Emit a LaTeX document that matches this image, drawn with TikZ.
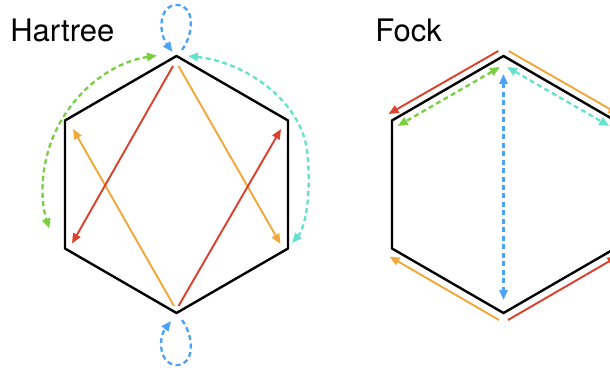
\documentclass[tikz,border=0pt]{standalone}
\usepackage{fontspec}
\setmainfont{TeX Gyre Heros}
\usetikzlibrary{arrows.meta}
\definecolor{cred}{RGB}{218,66,45}
\definecolor{corange}{RGB}{241,168,58}
\definecolor{cgreen}{RGB}{122,206,66}
\definecolor{ccyan}{RGB}{100,226,204}
\definecolor{cblue}{RGB}{76,162,246}
\begin{document}
\begin{tikzpicture}[x=0.75pt,y=-0.75pt,
  >={Triangle[length=7.5pt,width=6.2pt]},
  hexagon/.style={draw=black,line width=1.8pt,line join=miter},
  solidarrow/.style={line width=1.45pt,->},
  dasharrow/.style={line width=1.75pt,dash pattern=on 3.75pt off 2.6pt},
  title/.style={anchor=base west,inner sep=0pt,font=\fontsize{23.25}{28}\selectfont}]
\useasboundingbox (0,0) rectangle (610,370);
\clip (0,0) rectangle (610,370);

% titles
\node[title] (hartree) at (10,42) {Hartree};
\node[title] (fock) at (375,42) {Fock};

% ---------------- Hartree ----------------
\coordinate (H0) at (176.5,56);
\coordinate (H1) at (288,120.5);
\coordinate (H2) at (288,248.5);
\coordinate (H3) at (176.5,313);
\coordinate (H4) at (65,248.5);
\coordinate (H5) at (65,120.5);
\draw[hexagon] (H0)--(H1)--(H2)--(H3)--(H4)--(H5)--cycle;

\coordinate (ra1) at (178.5,306); \coordinate (ra2) at (281,129);
\coordinate (rb1) at (173,66);    \coordinate (rb2) at (72,243.5);
\coordinate (oa1) at (178.5,66);  \coordinate (oa2) at (280.5,244);
\coordinate (ob1) at (174,306);   \coordinate (ob2) at (73,129);
\draw[solidarrow,corange] (oa1) -- (oa2);
\draw[solidarrow,corange] (ob1) -- (ob2);
\draw[solidarrow,cred] (ra1) -- (ra2);
\draw[solidarrow,cred] (rb1) -- (rb2);

% green arc
\coordinate (gc) at (177,188);
\draw[dasharrow,cgreen,<->] (gc) ++(261.4:134) arc[start angle=261.4,end angle=162.4,radius=134];
% cyan arc
\coordinate (c1) at (188,56);
\coordinate (cm) at (307,150);
\coordinate (c2) at (292,243);
\draw[dasharrow,ccyan,<->] (c1) .. controls (245,62) and (300,100) .. (cm)
  .. controls (312,195) and (305,228) .. (c2);

% blue loops
\coordinate (bt1) at (182,50); \coordinate (bt2) at (172.5,52);
\draw[dasharrow,cblue,->] (bt1) .. controls (195,32) and (194,5) .. (177,5)
  .. controls (159,5) and (158,32) .. (bt2);
\coordinate (bb1) at (182,320); \coordinate (bb2) at (171,321);
\draw[dasharrow,cblue,->] (bb1) .. controls (195,338) and (194,365) .. (177,365)
  .. controls (159,365) and (158,338) .. (bb2);

% ---------------- Fock ----------------
\coordinate (F0) at (503.5,56);
\coordinate (F1) at (615,120.5);
\coordinate (F2) at (615,248.5);
\coordinate (F3) at (503.5,313);
\coordinate (F4) at (392,248.5);
\coordinate (F5) at (392,120.5);
\draw[hexagon] (F0)--(F1)--(F2)--(F3)--(F4)--(F5)--cycle;

\coordinate (fr1) at (498.3,51);  \coordinate (fr2) at (388.5,114);
\coordinate (fo1) at (508.7,51);  \coordinate (fo2) at (618.5,114);
\coordinate (fob1) at (499,320);  \coordinate (fob2) at (389.5,256.5);
\coordinate (frb1) at (508,320);  \coordinate (frb2) at (617.5,256.5);
\draw[solidarrow,cred] (fr1) -- (fr2);
\draw[solidarrow,corange] (fo1) -- (fo2);
\draw[solidarrow,corange] (fob1) -- (fob2);
\draw[solidarrow,cred] (frb1) -- (frb2);

\coordinate (fg1) at (500,67);   \coordinate (fg2) at (397.7,126);
\coordinate (fc1) at (507,67);   \coordinate (fc2) at (609.3,126);
\coordinate (fb1) at (503.5,74); \coordinate (fb2) at (503.5,300);
\draw[dasharrow,cgreen,<->] (fg1) -- (fg2);
\draw[dasharrow,ccyan,<->] (fc1) -- (fc2);
\draw[dasharrow,cblue,<->] (fb1) -- (fb2);
\end{tikzpicture}
\end{document}
